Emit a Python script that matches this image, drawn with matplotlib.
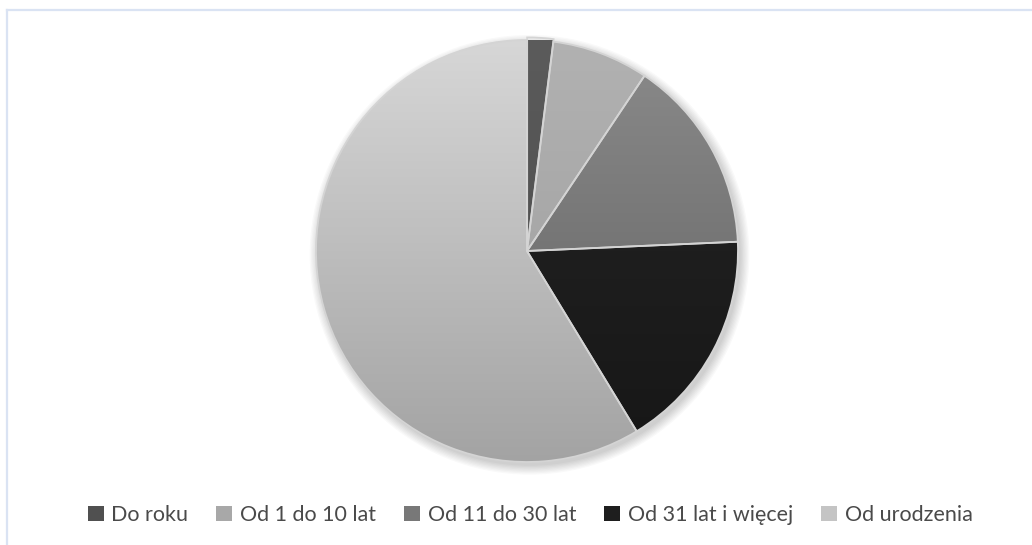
import matplotlib.pyplot as plt
import numpy as np
from matplotlib.colors import LinearSegmentedColormap
from matplotlib.lines import Line2D

categories = ['Do roku', 'Od 1 do 10 lat', 'Od 11 do 30 lat',
              'Od 31 lat i więcej', 'Od urodzenia']
shares = [2.0, 7.4, 14.9, 17.0, 58.7]

# top / bottom shade of each slice gradient
top_colors = ['#5c5c5c', '#b2b2b2', '#8c8c8c', '#262626', '#d8d8d8']
bottom_colors = ['#464646', '#9c9c9c', '#5e5e5e', '#161616', '#a2a2a2']
legend_colors = ['#505050', '#a8a8a8', '#787878', '#1e1e1e', '#c4c4c4']

plt.rcParams['font.family'] = ['Lato', 'DejaVu Sans']

W, H = 1032, 545
fig = plt.figure(figsize=(W / 100, H / 100), dpi=100)

# chart frame (cropped at right and bottom)
frame = '#dae3f3'
fig.add_artist(Line2D([6.5 / W, 6.5 / W], [0, 1 - 9.5 / H], color=frame, lw=1.6,
                      transform=fig.transFigure))
fig.add_artist(Line2D([6.5 / W, 1], [1 - 9.5 / H, 1 - 9.5 / H], color=frame, lw=1.6,
                      transform=fig.transFigure))

cx, cy, r = 527, 251, 211
ax = fig.add_axes([(cx - r) / W, (H - cy - r) / H, 2 * r / W, 2 * r / H])

# soft shadow to the lower right
for i in range(8):
    ax.add_patch(plt.Circle((0.012, -0.018), 1.0 + 0.006 * i, color='black',
                            alpha=0.025, lw=0, zorder=0, clip_on=False))

wedges, _ = ax.pie(shares, startangle=90, counterclock=False, radius=1,
                   colors=legend_colors, explode=[0.012, 0, 0, 0, 0],
                   wedgeprops=dict(edgecolor='#d4d4d4', linewidth=1.3))

grad = np.linspace(0, 1, 256).reshape(-1, 1)
for w, c0, c1 in zip(wedges, top_colors, bottom_colors):
    cmap = LinearSegmentedColormap.from_list('g', [c0, c1])
    im = ax.imshow(grad, cmap=cmap, extent=(-1.05, 1.05, -1.05, 1.05), aspect='auto',
                   origin='upper', zorder=1)
    im.set_clip_path(w)
    w.set_facecolor('none')
    w.set_zorder(2)

ax.set_xlim(-1, 1)
ax.set_ylim(-1, 1)
ax.axis('off')

handles = [plt.Rectangle((0, 0), 1, 1, facecolor=c, edgecolor='none')
           for c in legend_colors]
fig.legend(handles, categories, loc='center', ncol=5,
           bbox_to_anchor=(530 / W, 1 - 515 / H), frameon=False,
           fontsize=15.5, labelcolor='#4a4a4a', handlelength=0.75,
           handleheight=0.75, handletextpad=0.35, columnspacing=1.3)

fig.savefig('out.png', dpi=100)
